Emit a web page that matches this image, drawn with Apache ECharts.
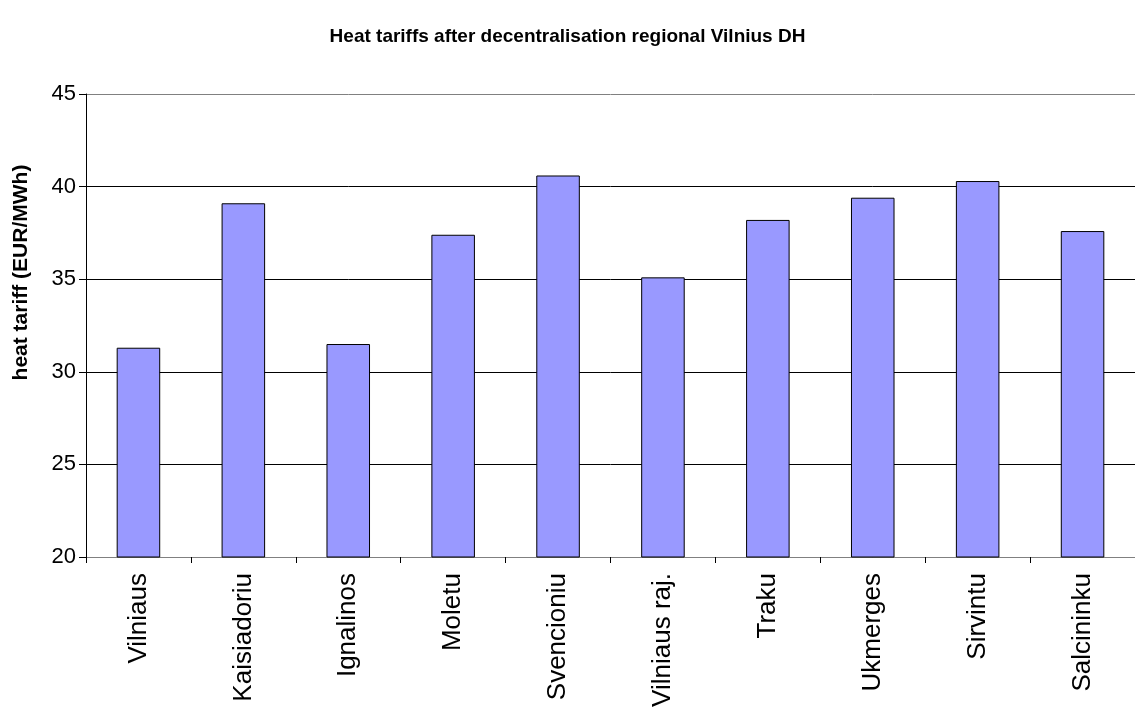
<!DOCTYPE html>
<html>
<head>
<meta charset="utf-8">
<script src="https://cdn.jsdelivr.net/npm/echarts@6/dist/echarts.min.js"></script>
<style>
  html, body { margin: 0; padding: 0; background: #fff; }
  #chart { width: 1135px; height: 710px; }
</style>
</head>
<body>
<div id="chart"></div>
<script>
var categories = ['Vilniaus', 'Kaisiadoriu', 'Ignalinos', 'Moletu', 'Svencioniu',
                  'Vilniaus raj.', 'Traku', 'Ukmerges', 'Sirvintu', 'Salcininku'];
var tariffs = [31.3, 39.1, 31.5, 37.4, 40.6, 35.1, 38.2, 39.4, 40.3, 37.6];
var yTicks = [20, 25, 30, 35, 40, 45];

(function () {
    var chart = echarts.init(document.getElementById('chart'));
    var font = 'Liberation Sans, Arial, sans-serif';

    // top gridline is grey like the plot border, the rest black
    var gridColors = yTicks.map(function (v, i) {
        return i === yTicks.length - 1 ? '#808080' : '#000';
    });

    var option = {
        animation: false,
        title: {
            text: 'Heat tariffs after decentralisation regional Vilnius DH',
            left: 'center',
            top: 22,
            textStyle: { fontFamily: font, fontSize: 19, fontWeight: 'bold', color: '#000' }
        },
        grid: { left: 86, right: 0, top: 94, bottom: 153 },
        xAxis: {
            type: 'category',
            data: categories,
            axisLine: { lineStyle: { color: '#808080', width: 1 } },
            axisTick: { show: true, alignWithLabel: false, length: 6, lineStyle: { color: '#000' } },
            axisLabel: {
                rotate: 90,
                margin: 16,
                interval: 0,
                fontFamily: font,
                fontSize: 26,
                color: '#000'
            }
        },
        yAxis: {
            type: 'value',
            min: yTicks[0],
            max: yTicks[yTicks.length - 1],
            interval: 5,
            name: 'heat tariff (EUR/MWh)',
            nameLocation: 'middle',
            nameGap: 54,
            nameTextStyle: {
                fontFamily: font, fontSize: 21, fontWeight: 'bold', color: '#000',
                padding: [0, 0, 0, 106]
            },
            axisLine: { show: true, lineStyle: { color: '#000' } },
            axisTick: { show: true, length: 7, lineStyle: { color: '#000' } },
            axisLabel: { fontFamily: font, fontSize: 22, color: '#000', margin: 10 },
            splitLine: { show: true, lineStyle: { color: gridColors, width: 1 } }
        },
        series: [{
            type: 'bar',
            data: tariffs,
            barWidth: '41.5%',
            itemStyle: { color: '#9999FF', borderColor: '#000', borderWidth: 1 }
        }]
    };
    chart.setOption(option);
})();
</script>
</body>
</html>
